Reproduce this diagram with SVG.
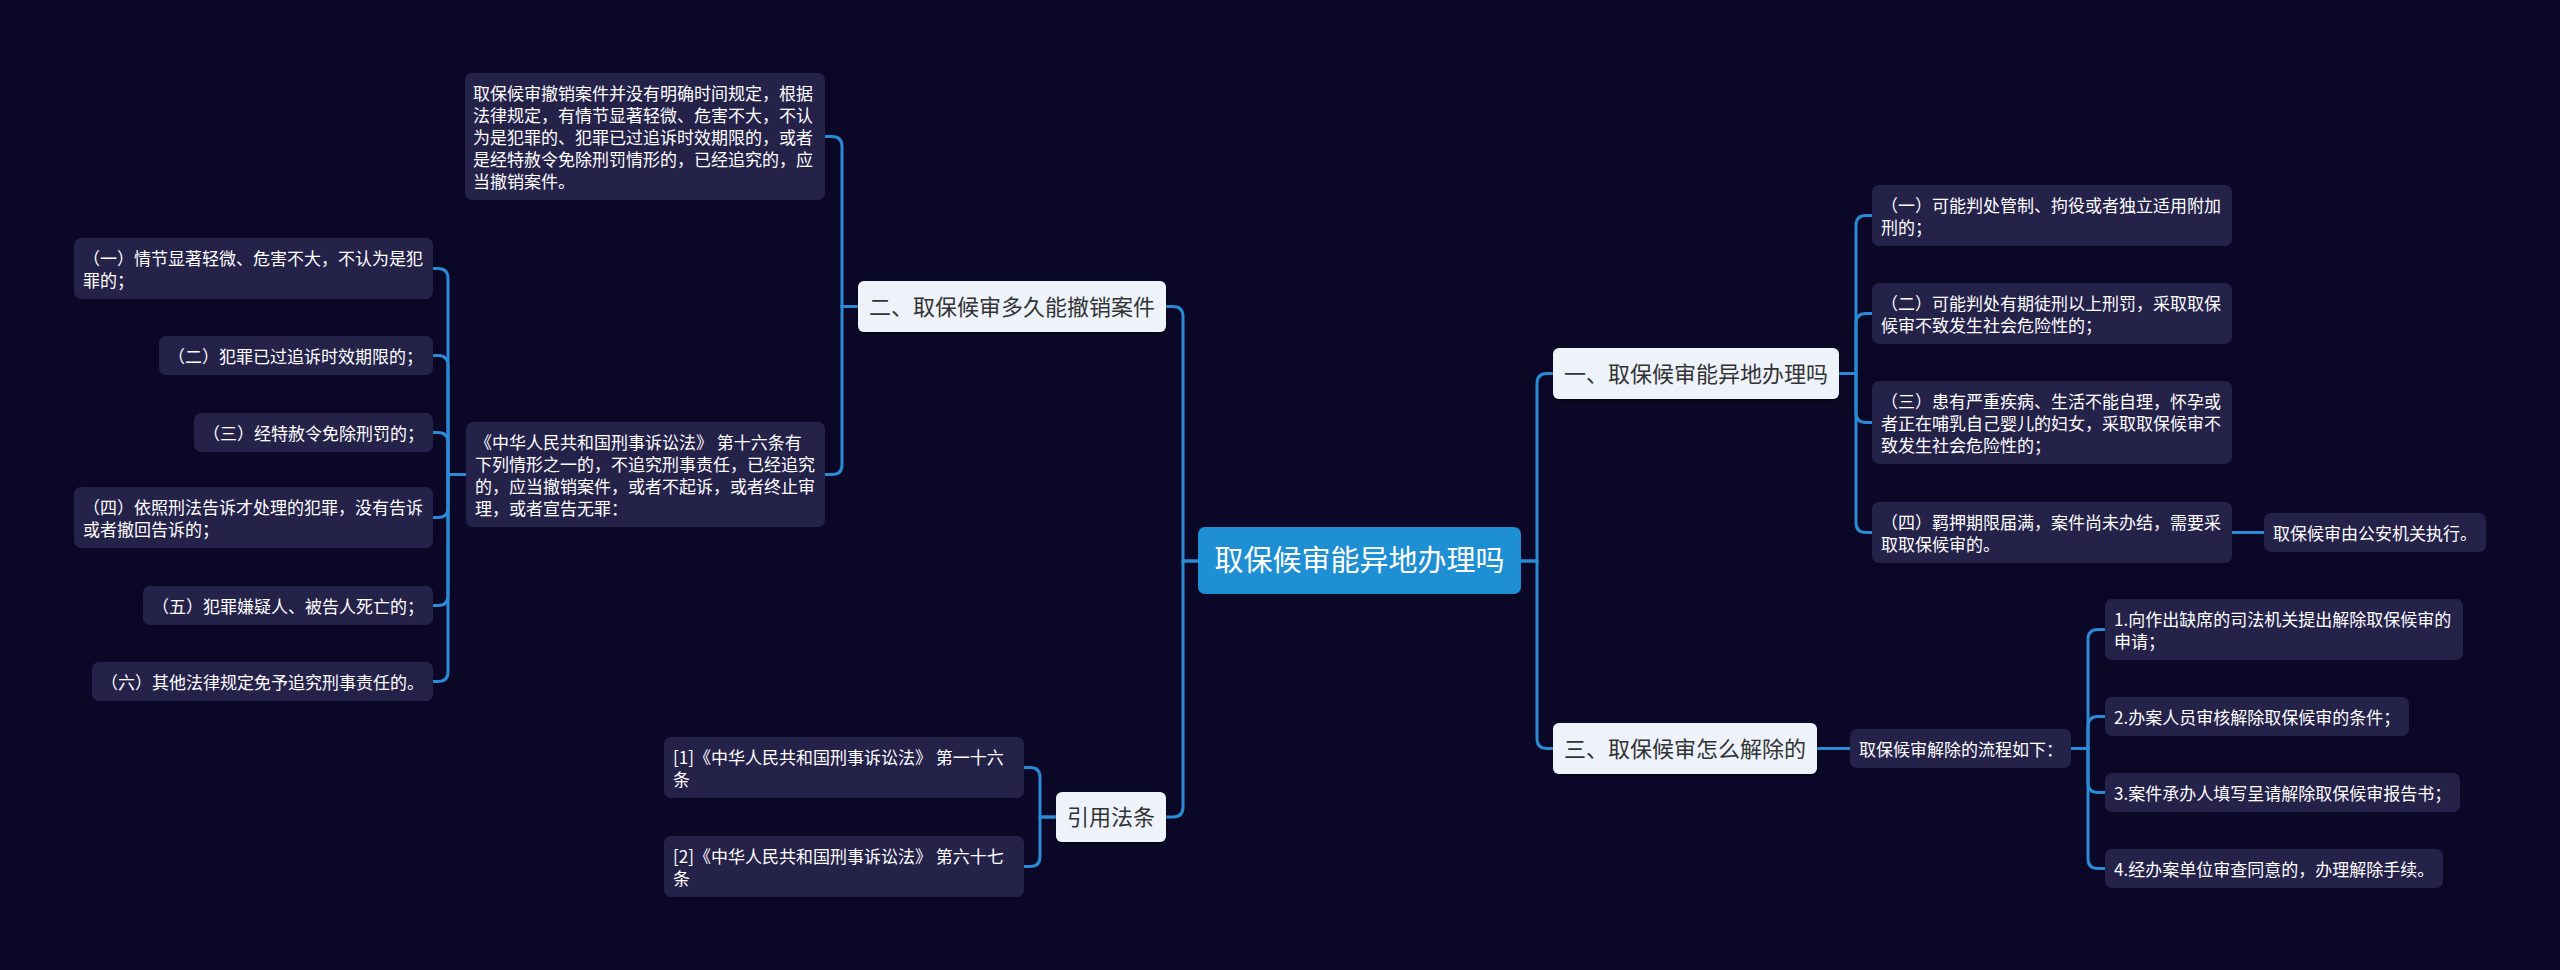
<svg xmlns="http://www.w3.org/2000/svg" width="2560" height="970" viewBox="0 0 2560 970">
<defs>
<style>
.bg{fill:#0b0727}
.leaf{fill:#25224a}
.l1{fill:#eef3fb}
.root{fill:#1f8fd3}
.lt{font-family:"Noto Sans CJK SC","Noto Sans",sans-serif;font-size:17px;fill:#ffffff}
.t1{font-family:"Noto Sans CJK SC","Noto Sans",sans-serif;font-size:22px;fill:#333333;text-anchor:middle}
.t0{font-family:"Noto Sans CJK SC","Noto Sans",sans-serif;font-size:29px;fill:#ffffff;text-anchor:middle}
.c{fill:none;stroke:#2a8ad4;stroke-width:3;stroke-linecap:round}
</style>
<filter id="sh" x="-10%" y="-20%" width="120%" height="150%">
<feDropShadow dx="0" dy="2" stdDeviation="1" flood-color="#000000" flood-opacity="0.5"/>
</filter>
</defs>
<rect class="bg" x="0" y="0" width="2560" height="970"/>

<g id="connectors">
<path class="c" d="M1198,561 H1183 V316.5 Q1183,306.5 1173,306.5 H1166"/>
<path class="c" d="M1198,561 H1183 V807 Q1183,817 1173,817 H1166"/>
<path class="c" d="M1521,561 H1537 V383.5 Q1537,373.5 1547,373.5 H1553"/>
<path class="c" d="M1521,561 H1537 V738.5 Q1537,748.5 1547,748.5 H1553"/>
<path class="c" d="M858,306.5 H842 V146.5 Q842,136.5 832,136.5 H825"/>
<path class="c" d="M858,306.5 H842 V464.5 Q842,474.5 832,474.5 H825"/>
<path class="c" d="M466,474.5 H448 V278.5 Q448,268.5 438,268.5 H433"/>
<path class="c" d="M466,474.5 H448 V365.5 Q448,355.5 438,355.5 H433"/>
<path class="c" d="M466,474.5 H448 V442.5 Q448,432.5 438,432.5 H433"/>
<path class="c" d="M466,474.5 H448 V507.5 Q448,517.5 438,517.5 H433"/>
<path class="c" d="M466,474.5 H448 V595.5 Q448,605.5 438,605.5 H433"/>
<path class="c" d="M466,474.5 H448 V671.5 Q448,681.5 438,681.5 H433"/>
<path class="c" d="M1839,373.5 H1856 V225.5 Q1856,215.5 1866,215.5 H1872"/>
<path class="c" d="M1839,373.5 H1856 V323.5 Q1856,313.5 1866,313.5 H1872"/>
<path class="c" d="M1839,373.5 H1856 V412.5 Q1856,422.5 1866,422.5 H1872"/>
<path class="c" d="M1839,373.5 H1856 V522.5 Q1856,532.5 1866,532.5 H1872"/>
<path class="c" d="M2232,532.5 H2264"/>
<path class="c" d="M1817,748.5 H1850"/>
<path class="c" d="M2071,748.5 H2088 V639.5 Q2088,629.5 2098,629.5 H2105"/>
<path class="c" d="M2071,748.5 H2088 V726.5 Q2088,716.5 2098,716.5 H2105"/>
<path class="c" d="M2071,748.5 H2088 V782.5 Q2088,792.5 2098,792.5 H2105"/>
<path class="c" d="M2071,748.5 H2088 V858.5 Q2088,868.5 2098,868.5 H2105"/>
<path class="c" d="M1056,817 H1040 V777.5 Q1040,767.5 1030,767.5 H1024"/>
<path class="c" d="M1056,817 H1040 V856.5 Q1040,866.5 1030,866.5 H1024"/>
</g>

<g id="root">
<rect class="root" x="1198" y="527" width="323" height="67" rx="7"/>
<text class="t0" x="1359.5" y="571">取保候审能异地办理吗</text>
</g>

<g id="n2">
<rect class="l1" x="858" y="281" width="308" height="51" rx="6" filter="url(#sh)"/>
<text class="t1" x="1012" y="314.5">二、取保候审多久能撤销案件</text>
</g>
<g id="n2a">
<rect class="leaf" x="465" y="73" width="360" height="127" rx="7"/>
<text class="lt"><tspan x="473" y="100">取保候审撤销案件并没有明确时间规定，根据</tspan><tspan x="473" y="122">法律规定，有情节显著轻微、危害不大，不认</tspan><tspan x="473" y="144">为是犯罪的、犯罪已过追诉时效期限的，或者</tspan><tspan x="473" y="166">是经特赦令免除刑罚情形的，已经追究的，应</tspan><tspan x="473" y="188">当撤销案件。</tspan></text>
</g>
<g id="n2b">
<rect class="leaf" x="466" y="422" width="359" height="105" rx="7"/>
<text class="lt"><tspan x="475" y="449">《中华人民共和国刑事诉讼法》 第十六条有</tspan><tspan x="475" y="471">下列情形之一的，不追究刑事责任，已经追究</tspan><tspan x="475" y="493">的，应当撤销案件，或者不起诉，或者终止审</tspan><tspan x="475" y="515">理，或者宣告无罪：</tspan></text>
</g>
<g id="n2b1">
<rect class="leaf" x="74" y="238" width="359" height="61" rx="7"/>
<text class="lt"><tspan x="83" y="265">（一）情节显著轻微、危害不大，不认为是犯</tspan><tspan x="83" y="287">罪的；</tspan></text>
</g>
<g id="n2b2">
<rect class="leaf" x="159" y="336" width="274" height="39" rx="7"/>
<text class="lt" x="168" y="362.5">（二）犯罪已过追诉时效期限的；</text>
</g>
<g id="n2b3">
<rect class="leaf" x="194" y="413" width="239" height="39" rx="7"/>
<text class="lt" x="203" y="439.5">（三）经特赦令免除刑罚的；</text>
</g>
<g id="n2b4">
<rect class="leaf" x="74" y="487" width="359" height="61" rx="7"/>
<text class="lt"><tspan x="83" y="514">（四）依照刑法告诉才处理的犯罪，没有告诉</tspan><tspan x="83" y="536">或者撤回告诉的；</tspan></text>
</g>
<g id="n2b5">
<rect class="leaf" x="143" y="586" width="290" height="39" rx="7"/>
<text class="lt" x="152" y="612.5">（五）犯罪嫌疑人、被告人死亡的；</text>
</g>
<g id="n2b6">
<rect class="leaf" x="92" y="662" width="341" height="39" rx="7"/>
<text class="lt" x="101" y="688.5">（六）其他法律规定免予追究刑事责任的。</text>
</g>

<g id="n4">
<rect class="l1" x="1056" y="792" width="110" height="50" rx="6" filter="url(#sh)"/>
<text class="t1" x="1111" y="825">引用法条</text>
</g>
<g id="n4a">
<rect class="leaf" x="664" y="737" width="360" height="61" rx="7"/>
<text class="lt"><tspan x="673" y="764">[1]《中华人民共和国刑事诉讼法》 第一十六</tspan><tspan x="673" y="786">条</tspan></text>
</g>
<g id="n4b">
<rect class="leaf" x="664" y="836" width="360" height="61" rx="7"/>
<text class="lt"><tspan x="673" y="863">[2]《中华人民共和国刑事诉讼法》 第六十七</tspan><tspan x="673" y="885">条</tspan></text>
</g>

<g id="n1">
<rect class="l1" x="1553" y="348" width="286" height="51" rx="6" filter="url(#sh)"/>
<text class="t1" x="1696" y="381.5">一、取保候审能异地办理吗</text>
</g>
<g id="n1a">
<rect class="leaf" x="1872" y="185" width="360" height="61" rx="7"/>
<text class="lt"><tspan x="1881" y="212">（一）可能判处管制、拘役或者独立适用附加</tspan><tspan x="1881" y="234">刑的；</tspan></text>
</g>
<g id="n1b">
<rect class="leaf" x="1872" y="283" width="360" height="61" rx="7"/>
<text class="lt"><tspan x="1881" y="310">（二）可能判处有期徒刑以上刑罚，采取取保</tspan><tspan x="1881" y="332">候审不致发生社会危险性的；</tspan></text>
</g>
<g id="n1c">
<rect class="leaf" x="1872" y="381" width="360" height="83" rx="7"/>
<text class="lt"><tspan x="1881" y="408">（三）患有严重疾病、生活不能自理，怀孕或</tspan><tspan x="1881" y="430">者正在哺乳自己婴儿的妇女，采取取保候审不</tspan><tspan x="1881" y="452">致发生社会危险性的；</tspan></text>
</g>
<g id="n1d">
<rect class="leaf" x="1872" y="502" width="360" height="61" rx="7"/>
<text class="lt"><tspan x="1881" y="529">（四）羁押期限届满，案件尚未办结，需要采</tspan><tspan x="1881" y="551">取取保候审的。</tspan></text>
</g>
<g id="n1d1">
<rect class="leaf" x="2264" y="513" width="222" height="39" rx="7"/>
<text class="lt" x="2273" y="539.5">取保候审由公安机关执行。</text>
</g>

<g id="n3">
<rect class="l1" x="1553" y="723" width="264" height="51" rx="6" filter="url(#sh)"/>
<text class="t1" x="1685" y="756.5">三、取保候审怎么解除的</text>
</g>
<g id="n3a">
<rect class="leaf" x="1850" y="729" width="221" height="39" rx="7"/>
<text class="lt" x="1859" y="755.5">取保候审解除的流程如下：</text>
</g>
<g id="n3a1">
<rect class="leaf" x="2105" y="599" width="358" height="61" rx="7"/>
<text class="lt"><tspan x="2114" y="626">1.向作出缺席的司法机关提出解除取保候审的</tspan><tspan x="2114" y="648">申请；</tspan></text>
</g>
<g id="n3a2">
<rect class="leaf" x="2105" y="697" width="304" height="39" rx="7"/>
<text class="lt" x="2114" y="723.5">2.办案人员审核解除取保候审的条件；</text>
</g>
<g id="n3a3">
<rect class="leaf" x="2105" y="773" width="355" height="39" rx="7"/>
<text class="lt" x="2114" y="799.5">3.案件承办人填写呈请解除取保候审报告书；</text>
</g>
<g id="n3a4">
<rect class="leaf" x="2105" y="849" width="338" height="39" rx="7"/>
<text class="lt" x="2114" y="875.5">4.经办案单位审查同意的，办理解除手续。</text>
</g>
</svg>
